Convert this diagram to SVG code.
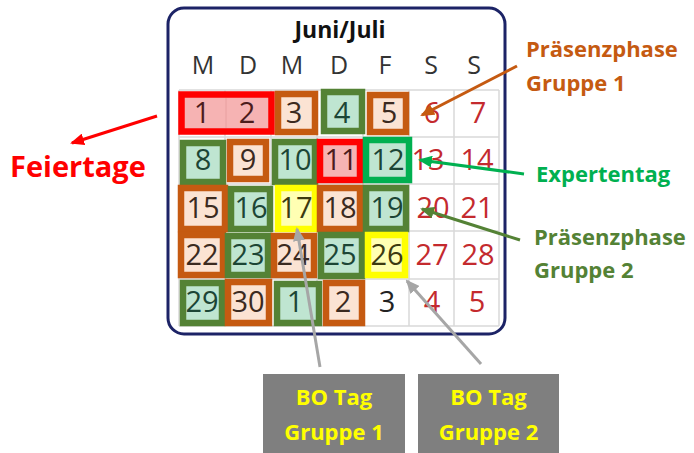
<svg xmlns="http://www.w3.org/2000/svg" width="694" height="453" viewBox="0 0 694 453">
<style>
text{font-family:"Open Sans","DejaVu Sans",sans-serif}
.num{font-size:29px;text-anchor:middle}
.hd{font-size:25px;text-anchor:middle;fill:#333}
.lbl{font-size:22px;font-weight:bold}
.wk{fill:#c42a2e}
.dk{fill:#222}
.tg{fill:#1c4535}
.tb{fill:#3b2a20}
.tr{fill:#4d1c1c}
.ty{fill:#3d3a10}
.b{stroke-width:6.5}
.red{fill:#f6b3b3;stroke:#ff0000}
.or{fill:#fbe3d3;stroke:#c55a11}
.gr{fill:#bfe5d1;stroke:#548235}
.bg{fill:#bfe5d1;stroke:#00b050}
.ye{fill:#ffffb3;stroke:#ffff00}
.grid line{stroke:#d9d9d9;stroke-width:1.5}
.conn line{stroke-width:3}
</style>
<defs>
<marker id="aR" markerUnits="userSpaceOnUse" markerWidth="14" markerHeight="12" viewBox="0 0 14 12" refX="12" refY="6" orient="auto"><path d="M0,0 L14,6 L0,12 z" fill="#ff0000"/></marker>
<marker id="aO" markerUnits="userSpaceOnUse" markerWidth="14" markerHeight="12" viewBox="0 0 14 12" refX="12" refY="6" orient="auto"><path d="M0,0 L14,6 L0,12 z" fill="#c55a11"/></marker>
<marker id="aB" markerUnits="userSpaceOnUse" markerWidth="14" markerHeight="12" viewBox="0 0 14 12" refX="12" refY="6" orient="auto"><path d="M0,0 L14,6 L0,12 z" fill="#00b050"/></marker>
<marker id="aG" markerUnits="userSpaceOnUse" markerWidth="14" markerHeight="12" viewBox="0 0 14 12" refX="12" refY="6" orient="auto"><path d="M0,0 L14,6 L0,12 z" fill="#548235"/></marker>
<marker id="aY" markerUnits="userSpaceOnUse" markerWidth="14" markerHeight="12" viewBox="0 0 14 12" refX="12" refY="6" orient="auto"><path d="M0,0 L14,6 L0,12 z" fill="#a6a6a6"/></marker>
</defs>
<rect width="694" height="453" fill="#ffffff"/>

<g id="calendar-frame">
<rect x="168" y="8" width="337" height="326" rx="16" fill="#ffffff" stroke="#1c2366" stroke-width="3"/>
<text x="340" y="38" font-size="23" font-weight="bold" text-anchor="middle" fill="#111">Juni/Juli</text>
<text class="hd" x="203" y="74">M</text>
<text class="hd" x="248" y="74">D</text>
<text class="hd" x="292" y="74">M</text>
<text class="hd" x="339" y="74">D</text>
<text class="hd" x="385" y="74">F</text>
<text class="hd" x="431" y="74">S</text>
<text class="hd" x="474" y="74">S</text>
</g>

<g class="grid" id="grid">
<line x1="179" y1="90" x2="499" y2="90"/>
<line x1="179" y1="137" x2="499" y2="137"/>
<line x1="179" y1="184" x2="499" y2="184"/>
<line x1="179" y1="231" x2="499" y2="231"/>
<line x1="179" y1="279" x2="499" y2="279"/>
<line x1="179" y1="326" x2="499" y2="326"/>
<line x1="179" y1="90" x2="179" y2="326"/>
<line x1="225" y1="90" x2="225" y2="326"/>
<line x1="271" y1="90" x2="271" y2="326"/>
<line x1="317" y1="90" x2="317" y2="326"/>
<line x1="363" y1="90" x2="363" y2="326"/>
<line x1="409" y1="90" x2="409" y2="326"/>
<line x1="454" y1="90" x2="454" y2="326"/>
<line x1="499" y1="90" x2="499" y2="326"/>
</g>

<g id="day-01-02">
<rect class="b red" x="181.5" y="94.5" width="90" height="37" stroke-width="7"/>
<line x1="226" y1="98" x2="226" y2="128" stroke="#e8a0a0" stroke-width="1"/>
<text class="num tr" x="202" y="123">1</text>
<text class="num tr" x="247" y="123">2</text>
</g>
<g id="day-03"><rect class="b or" x="278" y="94" width="37" height="38"/><text class="num tb" x="294" y="123">3</text></g>
<g id="day-04"><rect class="b gr" x="324" y="92" width="38" height="39"/><text class="num tg" x="342" y="123">4</text></g>
<g id="day-05"><rect class="b or" x="370" y="95" width="36" height="37"/><text class="num tb" x="389" y="123">5</text></g>
<g id="day-06"><text class="num wk" x="432" y="123">6</text></g>
<g id="day-07"><text class="num wk" x="478" y="123">7</text></g>

<g id="day-08"><rect class="b gr" x="183" y="143" width="40" height="39"/><text class="num tg" x="203" y="170">8</text></g>
<g id="day-09"><rect class="b or" x="230" y="142" width="36" height="37"/><text class="num tb" x="248" y="170">9</text></g>
<g id="day-10"><rect class="b gr" x="275" y="142" width="40" height="40"/><text class="num tg" x="295" y="170">10</text></g>
<g id="day-11"><rect class="b red" x="320" y="142" width="40" height="38"/><text class="num tr" x="341" y="170">11</text></g>
<g id="day-12"><rect class="b bg" x="366" y="140" width="43" height="40"/><text class="num tg" x="388" y="170">12</text></g>
<g id="day-13"><text class="num wk" x="428" y="170">13</text></g>
<g id="day-14"><text class="num wk" x="477" y="170">14</text></g>

<g id="day-15"><rect class="b or" x="181" y="188" width="44" height="41"/><text class="num tb" x="203" y="218">15</text></g>
<g id="day-16"><rect class="b gr" x="231" y="189" width="39" height="40"/><text class="num tg" x="251" y="218">16</text></g>
<g id="day-17"><rect class="b ye" x="278" y="188" width="37" height="41"/><text class="num ty" x="296" y="218">17</text></g>
<g id="day-18"><rect class="b or" x="320" y="188" width="40" height="41"/><text class="num tb" x="340" y="218">18</text></g>
<g id="day-19"><rect class="b gr" x="366" y="188" width="40" height="41"/><text class="num tg" x="387" y="218">19</text></g>
<g id="day-20"><text class="num wk" x="433" y="218">20</text></g>
<g id="day-21"><text class="num wk" x="477" y="218">21</text></g>

<g id="day-22"><rect class="b or" x="181" y="235" width="42" height="40"/><text class="num tb" x="202" y="265">22</text></g>
<g id="day-23"><rect class="b gr" x="228" y="236" width="40" height="39"/><text class="num tg" x="248" y="265">23</text></g>
<g id="day-24"><rect class="b or" x="274" y="236" width="40" height="39"/><text class="num tb" x="293" y="265">24</text></g>
<g id="day-25"><rect class="b gr" x="321" y="235" width="41" height="41"/><text class="num tg" x="340" y="265">25</text></g>
<g id="day-26"><rect class="b ye" x="368" y="235" width="37" height="40"/><text class="num ty" x="387" y="265">26</text></g>
<g id="day-27"><text class="num wk" x="432" y="265">27</text></g>
<g id="day-28"><text class="num wk" x="478" y="265">28</text></g>

<g id="day-29"><rect class="b gr" x="183" y="283" width="39" height="40"/><text class="num tg" x="202" y="312">29</text></g>
<g id="day-30"><rect class="b or" x="228" y="282" width="41" height="41"/><text class="num tb" x="248" y="312">30</text></g>
<g id="day-j01"><rect class="b gr" x="277" y="284" width="42" height="39"/><text class="num tg" x="295" y="312">1</text></g>
<g id="day-j02"><rect class="b or" x="326" y="283" width="36" height="40"/><text class="num tb" x="343" y="312">2</text></g>
<g id="day-j03"><text class="num dk" x="387" y="312">3</text></g>
<g id="day-j04"><text class="num wk" x="432" y="312">4</text></g>
<g id="day-j05"><text class="num wk" x="477" y="312">5</text></g>

<g class="conn" id="connectors">
<line x1="157" y1="116" x2="72" y2="143" stroke="#ff0000" marker-end="url(#aR)"/>
<line x1="517" y1="66" x2="422" y2="115" stroke="#c55a11" marker-end="url(#aO)"/>
<line x1="524" y1="174" x2="420" y2="160" stroke="#00b050" marker-end="url(#aB)"/>
<line x1="520" y1="240" x2="422" y2="209" stroke="#548235" marker-end="url(#aG)"/>
<line x1="320" y1="367" x2="297" y2="229" stroke="#a6a6a6" stroke-width="3.5" marker-end="url(#aY)"/>
<line x1="481" y1="364" x2="407" y2="281" stroke="#a6a6a6" stroke-width="3.5" marker-end="url(#aY)"/>
</g>

<g id="label-feiertage"><text x="10" y="177" font-size="29" font-weight="bold" fill="#ff0000">Feiertage</text></g>
<g id="label-praesenz-1"><text class="lbl" x="526" y="57" fill="#c55a11">Präsenzphase</text><text class="lbl" x="526" y="91" fill="#c55a11">Gruppe 1</text></g>
<g id="label-expertentag"><text class="lbl" x="536" y="182" fill="#00b050">Expertentag</text></g>
<g id="label-praesenz-2"><text class="lbl" x="534" y="245" fill="#548235">Präsenzphase</text><text class="lbl" x="534" y="278" fill="#548235">Gruppe 2</text></g>
<g id="label-bo-1"><rect x="263" y="374" width="142" height="79" fill="#7f7f7f"/><text class="lbl" x="334" y="405" text-anchor="middle" fill="#ffff00">BO Tag</text><text class="lbl" x="334" y="440" text-anchor="middle" fill="#ffff00">Gruppe 1</text></g>
<g id="label-bo-2"><rect x="418" y="374" width="141" height="79" fill="#7f7f7f"/><text class="lbl" x="488.5" y="405" text-anchor="middle" fill="#ffff00">BO Tag</text><text class="lbl" x="488.5" y="440" text-anchor="middle" fill="#ffff00">Gruppe 2</text></g>
</svg>
